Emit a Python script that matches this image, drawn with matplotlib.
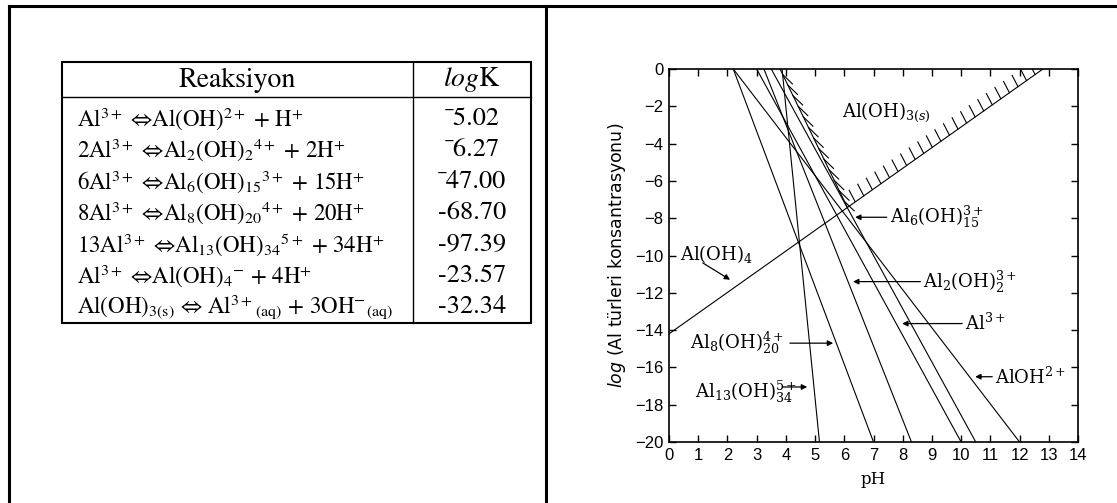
import matplotlib
matplotlib.use("Agg")
import matplotlib.pyplot as plt
from matplotlib.lines import Line2D
import numpy as np

# table data
reactions = [
    r"Al$^{3+}$ ⇔Al(OH)$^{2+}$ + H$^{+}$",
    r"2Al$^{3+}$ ⇔Al$_2$(OH)$_2$$^{4+}$ + 2H$^{+}$",
    r"6Al$^{3+}$ ⇔Al$_6$(OH)$_{15}$$^{3+}$ + 15H$^{+}$",
    r"8Al$^{3+}$ ⇔Al$_8$(OH)$_{20}$$^{4+}$ + 20H$^{+}$",
    r"13Al$^{3+}$ ⇔Al$_{13}$(OH)$_{34}$$^{5+}$ + 34H$^{+}$",
    r"Al$^{3+}$ ⇔Al(OH)$_4$$^{-}$ + 4H$^{+}$",
    r"Al(OH)$_{\mathrm{3(s)}}$ ⇔ Al$^{3+}$$_{\mathrm{(aq)}}$ + 3OH$^{-}$$_{\mathrm{(aq)}}$",
]
logk = ["\u02c95.02", "\u02c96.27", "\u02c947.00", "-68.70", "-97.39", "-23.57", "-32.34"]

# species lines: pH where line is at log=0 and at log=-20
species = ["AlOH2+", "Al3+", "Al2", "Al6", "Al8", "Al13"]
ph_top = [2.2, 3.0, 3.25, 3.5, 2.2, 3.87]
ph_bottom = [12.0, 10.0, 8.3, 10.5, 7.0, 5.15]

# Al(OH)4- line and solubility boundary
aloh4_ph = [0.0, 12.8]
aloh4_log = [-14.2, 0.0]
vertex = (6.1, -7.4)
left_arm_top = 3.8

plt.rcParams["mathtext.fontset"] = "stix"

fig = plt.figure(figsize=(11.17, 5.03), dpi=100)
W, H = 1117, 503

def fx(px):
    return px / W

def fy(py):
    return 1 - py / H

# outer frame
for xs, ys in [([9, 9], [6, 503]), ([9, 1117], [6, 6]), ([546, 546], [6, 503])]:
    fig.add_artist(Line2D([fx(x) for x in xs], [fy(y) for y in ys], color="black", lw=2.2))

# inner table
tl, tr, tt, tb = 62, 531, 62, 323
colx = 413
fig.add_artist(plt.Rectangle((fx(tl), fy(tb)), fx(tr) - fx(tl), fy(tt) - fy(tb),
                             fill=False, lw=1.5, color="black"))
fig.add_artist(Line2D([fx(tl), fx(tr)], [fy(97), fy(97)], color="black", lw=1.0))
fig.add_artist(Line2D([fx(colx), fx(colx)], [fy(tt), fy(tb)], color="black", lw=1.0))

fig.text(fx((tl + colx) / 2), fy(80), "Reaksiyon", fontsize=20, family="STIXGeneral",
         ha="center", va="center")
fig.text(fx((colx + tr) / 2), fy(80), r"$\mathit{log}\mathrm{K}$", fontsize=20,
         ha="center", va="center")
row_y = [119, 150, 182, 213, 245, 276, 307]
for r, k, y in zip(reactions, logk, row_y):
    fig.text(fx(77), fy(y), r, fontsize=16.5, family="STIXGeneral", ha="left", va="center")
    fig.text(fx((colx + tr) / 2), fy(y), k, fontsize=19, family="STIXGeneral",
             ha="center", va="center")

# plot
ax = fig.add_axes([fx(669), fy(442), fx(1078) - fx(669), fy(69) - fy(442)])
for p0, p1 in zip(ph_top, ph_bottom):
    ax.plot([p0, p1], [0, -20], color="black", lw=0.8)
ax.plot(aloh4_ph, aloh4_log, color="black", lw=0.8)
ax.plot([left_arm_top, vertex[0]], [0, vertex[1]], color="black", lw=0.8)

# hatch marks on the solid side
def hatch(p0, p1, n, dx, dy):
    for t in np.linspace(0.04, 0.96, n):
        x = p0[0] + t * (p1[0] - p0[0])
        y = p0[1] + t * (p1[1] - p0[1])
        ax.plot([x, x + dx], [y, y + dy], color="black", lw=0.8)

hatch((left_arm_top, 0), vertex, 13, 0.33, -0.5)
hatch(vertex, (aloh4_ph[1], aloh4_log[1]), 22, -0.2, 0.6)

ax.set_xlim(0, 14)
ax.set_ylim(-20, 0)
ax.set_xticks(range(0, 15))
ax.set_yticks(range(-20, 1, 2))
ax.tick_params(direction="in", length=5, width=1, top=True, right=True,
               labelsize=12, pad=4)
for lab in ax.get_xticklabels() + ax.get_yticklabels():
    lab.set_family("Liberation Sans")
for s in ax.spines.values():
    s.set_linewidth(1.2)
ax.set_xlabel("pH", family="DejaVu Serif", fontsize=12, labelpad=6)
ax.set_ylabel(r"$\mathit{log}$ (Al türleri konsantrasyonu)", family="DejaVu Sans",
              fontsize=12.5, labelpad=5, math_fontfamily="dejavusans")

lab_kw = dict(family="DejaVu Serif", fontsize=13, math_fontfamily="dejavuserif", va="center")
arr = dict(arrowstyle="-|>", color="black", lw=0.9, mutation_scale=8, shrinkA=0, shrinkB=0)

ax.text(5.92, -2.3, r"Al(OH)$_{3(s)}$", ha="left", **lab_kw)
ax.text(0.38, -9.9, r"Al(OH)$_4$", ha="left", **lab_kw)
ax.annotate("", xy=(2.09, -11.3), xytext=(1.16, -10.4), arrowprops=arr)

ax.annotate(r"Al$_6$(OH)$_{15}^{3+}$", xy=(6.37, -7.95), xytext=(7.55, -7.95),
            arrowprops=arr, ha="left", **lab_kw)
ax.annotate(r"Al$_2$(OH)$_2^{3+}$", xy=(6.3, -11.4), xytext=(8.7, -11.4),
            arrowprops=arr, ha="left", **lab_kw)
ax.annotate(r"Al$^{3+}$", xy=(7.98, -13.65), xytext=(10.13, -13.65),
            arrowprops=arr, ha="left", **lab_kw)
ax.annotate(r"AlOH$^{2+}$", xy=(10.48, -16.5), xytext=(11.16, -16.5),
            arrowprops=arr, ha="left", **lab_kw)
ax.text(0.72, -14.7, r"Al$_8$(OH)$_{20}^{4+}$", ha="left", **lab_kw)
ax.annotate("", xy=(5.62, -14.7), xytext=(4.14, -14.7), arrowprops=arr)
ax.text(0.89, -17.3, r"Al$_{13}$(OH)$_{34}^{5+}$", ha="left", **lab_kw)
ax.annotate("", xy=(4.73, -17.05), xytext=(3.87, -17.05), arrowprops=arr)

fig.savefig("out.png", dpi=100)
